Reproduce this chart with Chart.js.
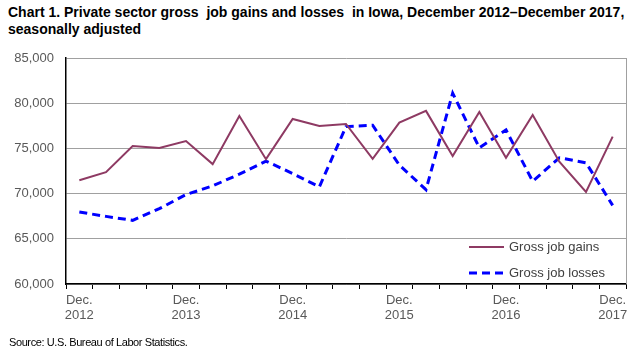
<!DOCTYPE html>
<html>
<head>
<meta charset="utf-8">
<script src="https://cdn.jsdelivr.net/npm/chart.js@4/dist/chart.umd.min.js"></script>
<style>
  body { margin: 0; background: #fff; }
  #wrap { position: relative; width: 642px; height: 350px; }
  #title {
    position: absolute; left: 8px; top: 4px;
    font-family: "Liberation Sans", Arial, sans-serif;
    font-weight: bold; font-size: 14px; line-height: 17px; color: #000;
  }
  #source {
    position: absolute; left: 9px; top: 336px;
    font-family: "Liberation Sans", Arial, sans-serif;
    font-size: 11px; letter-spacing: -0.4px; color: #000;
  }
  canvas { position: absolute; left: 0; top: 0; }
</style>
</head>
<body>
<div id="wrap">
  <div id="title">Chart 1. Private sector gross&nbsp; job gains and losses&nbsp; in Iowa, December 2012–December 2017,<br>seasonally adjusted</div>
  <canvas id="myChart" width="642" height="350"></canvas>
  <div id="source">Source: U.S. Bureau of Labor Statistics.</div>
</div>
<script>
// quarters, Dec 2012 - Dec 2017
const quarters = [
  'Dec 2012', 'Mar 2013', 'Jun 2013', 'Sep 2013',
  'Dec 2013', 'Mar 2014', 'Jun 2014', 'Sep 2014',
  'Dec 2014', 'Mar 2015', 'Jun 2015', 'Sep 2015',
  'Dec 2015', 'Mar 2016', 'Jun 2016', 'Sep 2016',
  'Dec 2016', 'Mar 2017', 'Jun 2017', 'Sep 2017',
  'Dec 2017'
];

// only the December quarters get a label
const tickLabels = [
  ['Dec.', '2012'], '', '', '',
  ['Dec.', '2013'], '', '', '',
  ['Dec.', '2014'], '', '', '',
  ['Dec.', '2015'], '', '', '',
  ['Dec.', '2016'], '', '', '',
  ['Dec.', '2017']
];

const grossGains = [
  71480, 72370, 75260, 75040, 75810, 73260, 78590, 73810,
  78260, 77480, 77700, 73850, 77850, 79150, 74150, 79040,
  73960, 78700, 73520, 70190, 76300
];

const grossLosses = [
  67960, 67480, 67040, 68330, 69890, 70850, 72150, 73590,
  72220, 70740, 77410, 77560, 73150, 70440, 81110, 75070,
  77040, 71370, 73960, 73410, 68700
];

const gainsColor = '#8E3A63';
const lossesColor = '#0000FF';

// legend drawn inside the plot, lower right
const insideLegend = {
  id: 'insideLegend',
  afterDraw(chart) {
    const ctx = chart.ctx;
    const area = chart.chartArea;
    // right border of plot area
    ctx.save();
    ctx.strokeStyle = '#A0A0A0';
    ctx.lineWidth = 1;
    ctx.beginPath();
    ctx.moveTo(area.right + 0.5, area.top);
    ctx.lineTo(area.right + 0.5, area.bottom);
    ctx.stroke();

    const items = [
      { text: 'Gross job gains', color: gainsColor, width: 2, dash: [], y: 247 },
      { text: 'Gross job losses', color: lossesColor, width: 3, dash: [8, 5], y: 273 }
    ];
    ctx.font = '13px "Liberation Sans", Arial, sans-serif';
    ctx.textBaseline = 'middle';
    items.forEach(item => {
      ctx.strokeStyle = item.color;
      ctx.lineWidth = item.width;
      ctx.setLineDash(item.dash);
      ctx.beginPath();
      ctx.moveTo(469, item.y);
      ctx.lineTo(504, item.y);
      ctx.stroke();
      ctx.setLineDash([]);
      ctx.fillStyle = '#404040';
      ctx.fillText(item.text, 509, item.y);
    });
    ctx.restore();
  }
};

const elem = document.getElementById('myChart').getContext('2d');
const chart = new Chart(elem, {
  type: 'line',
  data: {
    labels: quarters,
    datasets: [
      {
        label: 'Gross job gains',
        data: grossGains,
        borderColor: gainsColor,
        borderWidth: 2,
        pointRadius: 0,
        tension: 0
      },
      {
        label: 'Gross job losses',
        data: grossLosses,
        borderColor: lossesColor,
        borderWidth: 3,
        borderDash: [8, 5],
        pointRadius: 0,
        tension: 0
      }
    ]
  },
  options: {
    responsive: false,
    animation: false,
    layout: { padding: { left: 0, top: 58, right: 16, bottom: 26 } },
    plugins: {
      legend: { display: false },
      tooltip: { enabled: false }
    },
    scales: {
      x: {
        offset: true,
        grid: {
          offset: true,
          drawOnChartArea: false,
          drawTicks: true,
          tickLength: 5,
          color: '#000'
        },
        border: { color: '#000', width: 1.5 },
        ticks: {
          autoSkip: false,
          maxRotation: 0,
          padding: 4,
          color: '#595959',
          font: { family: '"Liberation Sans", Arial, sans-serif', size: 13, lineHeight: 1.17 },
          callback: (value, index) => tickLabels[index]
        },
        afterFit: (scale) => { scale.height = 40; }
      },
      y: {
        min: 60000,
        max: 85000,
        grid: {
          color: '#A0A0A0',
          drawTicks: false
        },
        border: { color: '#000', width: 1.5 },
        ticks: {
          stepSize: 5000,
          padding: 12,
          color: '#595959',
          font: { family: '"Liberation Sans", Arial, sans-serif', size: 13 },
          callback: (value) => value.toLocaleString('en-US')
        },
        afterFit: (scale) => { scale.width = 66; }
      }
    }
  },
  plugins: [insideLegend]
});
</script>
</body>
</html>
